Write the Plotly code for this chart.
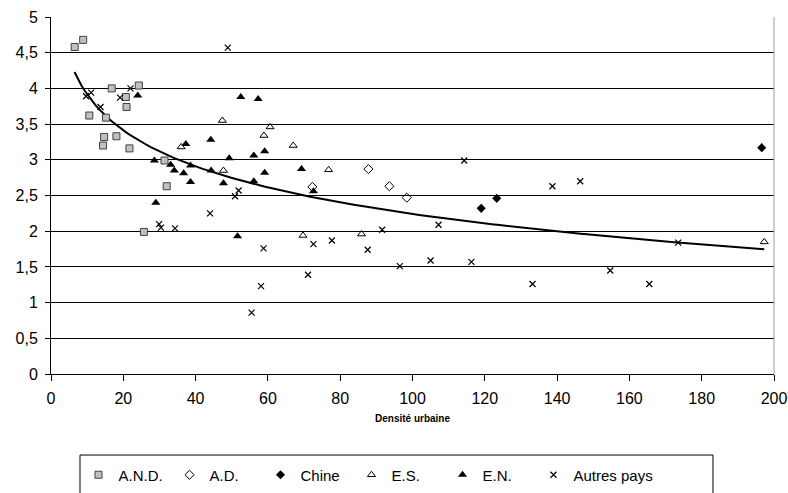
import numpy as np
import plotly.graph_objects as go

# ---- data ----
and_x = [6.55, 8.9, 16.8, 20.7, 24.3, 10.6, 15.2, 20.9, 14.7, 18.1, 14.4, 21.7, 31.4, 32.0, 25.7]
and_y = [4.58, 4.68, 4.00, 3.88, 4.04, 3.62, 3.59, 3.74, 3.32, 3.33, 3.20, 3.16, 2.99, 2.63, 1.99]

ad_x = [87.8, 93.6, 98.4, 72.3]
ad_y = [2.87, 2.63, 2.47, 2.62]

chine_x = [119.0, 123.3, 196.6]
chine_y = [2.32, 2.46, 3.17]

es_x = [47.4, 36.0, 47.7, 60.6, 58.9, 67.0, 76.8, 69.7, 85.9, 197.3]
es_y = [3.55, 3.18, 2.85, 3.46, 3.34, 3.20, 2.86, 1.94, 1.96, 1.85]

en_x = [24.0, 52.5, 57.3, 37.3, 44.2, 49.3, 28.6, 33.1, 34.1, 38.6, 36.7, 44.3, 38.6, 47.7,
        29.0, 51.6, 56.1, 59.1, 59.1, 56.1, 69.3, 72.6]
en_y = [3.90, 3.88, 3.85, 3.22, 3.28, 3.02, 2.99, 2.93, 2.85, 2.92, 2.81, 2.85, 2.69, 2.67,
        2.40, 1.93, 3.06, 3.12, 2.82, 2.70, 2.87, 2.56]

autres_x = [48.9, 9.7, 11.1, 13.7, 19.1, 22.0, 51.9, 50.9, 44.0, 29.9, 30.4, 34.3, 58.8, 58.1,
            55.5, 72.6, 71.1, 77.7, 87.6, 91.6, 96.5, 105.0, 114.3, 107.2, 116.3, 133.2,
            138.7, 146.4, 154.7, 165.5, 173.5]
autres_y = [4.57, 3.89, 3.94, 3.74, 3.87, 4.00, 2.57, 2.49, 2.25, 2.10, 2.05, 2.04, 1.76, 1.23,
            0.86, 1.82, 1.39, 1.87, 1.74, 2.02, 1.51, 1.59, 2.99, 2.09, 1.57, 1.26,
            2.63, 2.70, 1.45, 1.26, 1.84]

# logarithmic trend line (Excel-style), coefficients
trend_a = 5.59
trend_b = -0.727
trend_xmin, trend_xmax = 6.5, 197.3

series = [
    ("A.N.D.", and_x, and_y, dict(symbol="square", size=7, color="#C0C0C0", line=dict(color="#404040", width=1))),
    ("A.D.", ad_x, ad_y, dict(symbol="diamond-open", size=7, color="black", line=dict(width=1))),
    ("Chine", chine_x, chine_y, dict(symbol="diamond", size=7, color="black")),
    ("E.S.", es_x, es_y, dict(symbol="triangle-up-open", size=7, color="black", line=dict(width=1))),
    ("E.N.", en_x, en_y, dict(symbol="triangle-up", size=8, color="black")),
    ("Autres pays", autres_x, autres_y, dict(symbol="x-thin", size=6, color="black", line=dict(color="black", width=1.2))),
]

fig = go.Figure()

tx = np.linspace(trend_xmin, trend_xmax, 200)
ty = trend_a + trend_b * np.log(tx)
fig.add_trace(go.Scatter(x=tx, y=ty, mode="lines", line=dict(color="black", width=2),
                         showlegend=False, hoverinfo="skip"))

for name, xs, ys, mk in series:
    fig.add_trace(go.Scatter(x=xs, y=ys, mode="markers", name=name, marker=mk))

# empty spacer entry so the last legend label is not clipped
fig.add_trace(go.Scatter(x=[None], y=[None], mode="markers", name=" ",
                         marker=dict(color="rgba(0,0,0,0)"), hoverinfo="skip"))

font_family = "Liberation Sans, Arial, sans-serif"

fig.update_layout(
    width=788, height=493,
    margin=dict(l=51, r=14, t=17, b=119),
    paper_bgcolor="white", plot_bgcolor="white",
    separators=", ",
    font=dict(family=font_family, size=13, color="black"),
    showlegend=True,
    legend=dict(
        orientation="h", xref="container", yref="container",
        x=0.0996, xanchor="left", y=0.0365, yanchor="middle",
        borderwidth=0, bgcolor="rgba(0,0,0,0)",
        font=dict(size=15, family=font_family), itemwidth=30, entrywidth=46,
    ),
    xaxis=dict(
        range=[0, 200], tick0=0, dtick=20, showgrid=False, zeroline=False,
        showline=True, linecolor="black", linewidth=1, automargin=False,
        ticks="outside", ticklen=6, tickcolor="black",
        tickfont=dict(size=16), ticklabelstandoff=4,
        title=dict(text="<b>Densité urbaine</b>", font=dict(size=10, family=font_family), standoff=8),
    ),
    yaxis=dict(
        range=[0, 5], tick0=0, dtick=0.5, showgrid=True, gridcolor="black", gridwidth=1,
        zeroline=False, showline=True, linecolor="black", linewidth=1, automargin=False,
        ticks="outside", ticklen=5, tickcolor="black",
        tickfont=dict(size=16), ticklabelstandoff=4,
    ),
    shapes=[
        dict(type="line", xref="paper", yref="paper", x0=1, x1=1, y0=0, y1=1,
             line=dict(color="#A0A0A0", width=1)),
        dict(type="rect", xref="paper", yref="paper", x0=0.0401, x1=0.9156, y0=-0.227, y1=-0.40,
             line=dict(color="black", width=1), fillcolor="rgba(0,0,0,0)", layer="below"),
    ],
)

fig.write_html("out.html", post_script="document.body.style.margin='0';",
               config={"displayModeBar": False})
